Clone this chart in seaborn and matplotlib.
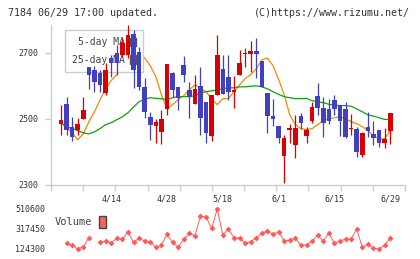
import numpy as np
import pandas as pd
import seaborn as sns
from matplotlib import pyplot as plt
from matplotlib.patches import Patch

# Dados diários (4/1 a 6/29)
abertura = [2485, 2545, 2476, 2467, 2500, 2657, 2648, 2639, 2579, 2685,
            2700, 2694, 2694, 2758, 2703, 2597, 2506, 2479, 2461, 2530,
            2639, 2597, 2664, 2588, 2545, 2600, 2551, 2448, 2573, 2651,
            2627, 2582, 2633, 2698, 2697, 2706, 2676, 2579, 2509, 2479,
            2388, 2467, 2421, 2509, 2448, 2494, 2570, 2533, 2530, 2558,
            2542, 2530, 2469, 2470, 2391, 2476, 2455, 2467, 2427, 2464]
maxima = [2542, 2567, 2506, 2503, 2567, 2657, 2660, 2648, 2670, 2694,
          2724, 2745, 2785, 2770, 2718, 2624, 2521, 2500, 2527, 2667,
          2642, 2597, 2691, 2612, 2633, 2658, 2551, 2573, 2755, 2694,
          2694, 2630, 2709, 2715, 2736, 2745, 2676, 2579, 2561, 2479,
          2452, 2485, 2512, 2518, 2476, 2552, 2609, 2567, 2561, 2573,
          2542, 2552, 2515, 2476, 2461, 2521, 2494, 2467, 2473, 2518]
minima = [2452, 2452, 2433, 2452, 2500, 2591, 2582, 2582, 2573, 2627,
          2633, 2688, 2685, 2594, 2588, 2503, 2436, 2427, 2424, 2512,
          2567, 2527, 2612, 2503, 2545, 2452, 2427, 2433, 2573, 2576,
          2558, 2533, 2633, 2657, 2642, 2624, 2597, 2458, 2479, 2427,
          2306, 2427, 2382, 2470, 2427, 2488, 2512, 2445, 2485, 2512,
          2448, 2442, 2452, 2385, 2385, 2445, 2421, 2415, 2412, 2424]
fechamento = [2497, 2467, 2445, 2485, 2527, 2633, 2612, 2603, 2648, 2670,
              2670, 2730, 2755, 2648, 2597, 2521, 2482, 2491, 2500, 2667,
              2588, 2564, 2633, 2567, 2591, 2503, 2458, 2573, 2694, 2576,
              2582, 2588, 2670, 2701, 2706, 2697, 2597, 2509, 2500, 2442,
              2442, 2473, 2473, 2488, 2467, 2536, 2533, 2488, 2494, 2530,
              2494, 2445, 2471, 2400, 2458, 2464, 2442, 2427, 2439, 2518]
media_5 = [2488, 2473, 2457, 2436, 2454, 2491, 2521, 2558, 2591, 2616,
           2634, 2658, 2679, 2695, 2698, 2685, 2661, 2628, 2573, 2530,
           2543, 2558, 2570, 2588, 2603, 2594, 2582, 2561, 2543, 2561,
           2561, 2582, 2603, 2622, 2634, 2652, 2679, 2685, 2661, 2619,
           2573, 2512, 2482, 2470, 2467, 2470, 2482, 2494, 2500, 2503,
           2506, 2500, 2491, 2485, 2476, 2464, 2448, 2439, 2439, 2464]
media_25 = [2488, 2476, 2470, 2464, 2457, 2454, 2460, 2470, 2482, 2488,
            2497, 2506, 2518, 2536, 2552, 2559, 2564, 2562, 2561, 2558,
            2564, 2567, 2567, 2567, 2570, 2579, 2582, 2585, 2587, 2591,
            2594, 2594, 2597, 2597, 2599, 2600, 2597, 2591, 2582, 2574,
            2567, 2564, 2561, 2561, 2562, 2555, 2552, 2549, 2544, 2541,
            2540, 2540, 2538, 2530, 2521, 2512, 2508, 2503, 2498, 2497]
volume = [np.nan, 173300, 156700, 117400, 140000, 228200, np.nan, 189000, 195900, 179200,
          222400, 215500, 287100, 183100, 222400, 195900, 189000, 134100, 156700, 261600,
          183100, 134100, 212500, 271400, 247800, 441000, 431200, 320400, 509600, 254700,
          313500, 228200, 228200, 173300, 189000, 228200, 271400, 293900, 261600, 287100,
          195900, 205700, 222400, 156700, 156700, 195900, 254700, 195900, 271400, 173300,
          195900, 215500, 215500, 313500, 134100, 163500, 124300, 117400, 156700, 222400]

rotulos_datas = ['4/14', '4/28', '5/18', '6/1', '6/15', '6/29']
posicoes_datas = [9, 19, 29, 39, 49, 59]
ticks_preco = [2300, 2500, 2700]
ticks_volume = [124300, 317450, 510600]

VERMELHO = '#d80000'
AZUL = '#4040c0'
LARANJA = '#f28a00'
VERDE = '#10a010'
CINZA = '#cccccc'
TEXTO = '#333333'

df = pd.DataFrame({'dia': np.arange(len(fechamento)), 'abertura': abertura,
                   'maxima': maxima, 'minima': minima, 'fechamento': fechamento,
                   'media_5': media_5, 'media_25': media_25, 'volume': volume})

sns.set_style('white')
plt.rcParams['font.family'] = ['DejaVu Sans Mono']

fig = plt.figure(figsize=(4.2, 2.59), dpi=100)
ax = fig.add_axes([51/420, 1-184.5/259, 354/420, 159.5/259])
axv = fig.add_axes([51/420, 1-253/259, 354/420, 50/259])

xlim = (-1.79, 61.65)

# Médias móveis
sns.lineplot(data=df, x='dia', y='media_5', color=LARANJA, lw=0.9, ax=ax, zorder=2)
sns.lineplot(data=df, x='dia', y='media_25', color=VERDE, lw=0.9, ax=ax, zorder=2)

# Candles
alta = df['fechamento'] >= df['abertura']
cores = np.where(alta, VERMELHO, AZUL)
base = np.minimum(df['abertura'], df['fechamento'])
altura = np.maximum(np.abs(df['fechamento'] - df['abertura']), 2.5)
ax.vlines(df['dia'], df['minima'], df['maxima'], colors=cores, lw=0.9, zorder=3)
ax.bar(df['dia'], altura, bottom=base, width=0.82, color=cores, zorder=3, linewidth=0)

ax.set_xlim(*xlim)
ax.set_ylim(2300, 2785)
ax.set_xlabel('')
ax.set_ylabel('')
ax.set_yticks(ticks_preco)
ax.set_yticklabels([str(t) for t in ticks_preco])
ax.set_xticks(posicoes_datas)
ax.set_xticklabels(rotulos_datas)
ax.set_xticks(np.linspace(xlim[0], xlim[1], 12), minor=True)
ax.tick_params(axis='x', which='major', length=0, pad=7.5, labelsize=6, labelcolor=TEXTO)
ax.tick_params(axis='x', which='minor', direction='out', length=4.3, width=1.0, color=CINZA, bottom=True)
ax.tick_params(axis='y', direction='out', length=4.3, width=1.0, color=CINZA, left=True,
               pad=5, labelsize=6, labelcolor=TEXTO)
for lado in ['top', 'right']:
    ax.spines[lado].set_visible(False)
for lado in ['left', 'bottom']:
    ax.spines[lado].set_color(CINZA)
    ax.spines[lado].set_linewidth(1.0)

# Legenda das médias
leg = ax.legend(handles=[Patch(facecolor=LARANJA, edgecolor='#555555'),
                         Patch(facecolor=VERDE, edgecolor='#555555')],
                labels=['5-day MA', '25-day MA'], loc='upper left',
                bbox_to_anchor=((65-51)/354, 1-5/159.5), borderaxespad=0,
                markerfirst=False, fontsize=7, handlelength=0.6, handleheight=1.0,
                handletextpad=0.5, borderpad=0.75, labelspacing=0.75,
                fancybox=False, framealpha=1, edgecolor=CINZA, facecolor='white')
leg.set_zorder(2.5)
for t in leg.get_texts():
    t.set_color('#444444')

# Volume
axv.plot(df['dia'], df['volume'], color='#ff5a5a', lw=0.7, marker='D', markersize=3.0,
         markeredgewidth=0)
axv.set_xlim(*xlim)
axv.set_ylim(78200, 569400)
axv.set_xticks([])
axv.set_yticks(ticks_volume)
axv.set_yticklabels([str(t) for t in ticks_volume])
axv.tick_params(axis='y', length=0, pad=4.3, labelsize=6, labelcolor=TEXTO)
for lado in axv.spines:
    axv.spines[lado].set_visible(False)
axv.patch.set_alpha(0)

lv = axv.legend(handles=[Patch(facecolor='#ff6060', edgecolor='#444444')], labels=['Volume'],
                loc='center left', bbox_to_anchor=((58-51)/354 - 0.02, 0.62), borderaxespad=0,
                markerfirst=False, frameon=False, fontsize=7.5, handlelength=0.65,
                handleheight=1.35, handletextpad=0.6)
for t in lv.get_texts():
    t.set_color('#444444')

# Cabeçalho
fig.text(8/420, 1-13/259, '7184 06/29 17:00 updated.', fontsize=7.2, color=TEXTO, va='center', ha='left')
fig.text(410/420, 1-13/259, '(C)https://www.rizumu.net/', fontsize=7.2, color=TEXTO, va='center', ha='right')

fig.savefig('out.png', dpi=100)
plt.close()
